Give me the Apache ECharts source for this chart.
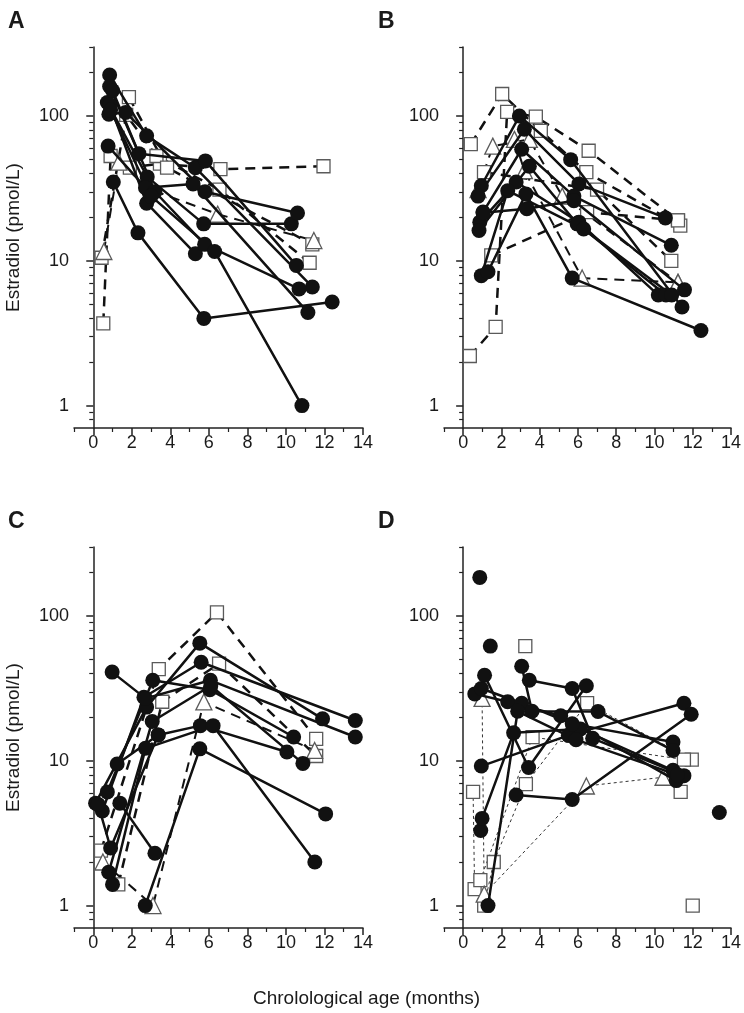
<!DOCTYPE html>
<html>
<head>
<meta charset="utf-8">
<script src="https://cdn.jsdelivr.net/npm/echarts@6/dist/echarts.min.js"></script>
<style>
  html, body { margin: 0; background: #fff; }
  #main { width: 744px; height: 1013px; }
</style>
</head>
<body>
<div id="main"></div>
<script>
// estradiol vs age, one line per infant. circles = solid, squares / triangles = dashed
const panelNames = ['A', 'B', 'C', 'D'];
const xTicks = [0, 2, 4, 6, 8, 10, 12, 14];
const xMinorTicks = [-1, 1, 3, 5, 7, 9, 11, 13];
const yTicks = [1, 10, 100];
const yMinorTicks = [0.8, 0.9, 2, 3, 4, 5, 6, 7, 8, 9, 20, 30, 40, 50, 60, 70, 80, 90, 200, 300];

// panel A
const aCircles = [
  [[0.85, 192], [2.77, 73], [5.3, 44], [11.37, 6.6]],
  [[0.85, 160], [2.37, 55], [5.82, 49], [10.54, 9.3]],
  [[0.73, 124], [2.8, 38], [5.73, 18], [10.28, 18]],
  [[0.81, 103], [1.68, 106], [5.8, 30], [10.6, 21.4]],
  [[0.77, 62], [2.71, 32], [5.18, 34], [11.14, 4.4]],
  [[1.04, 35], [2.32, 15.6], [5.74, 4.0], [12.4, 5.2]],
  [[0.85, 120], [2.77, 25], [5.3, 11.2]],
  [[1.0, 150], [3.2, 30], [5.78, 13], [10.68, 6.4]],
  [[0.9, 110], [3.0, 28], [6.3, 11.6], [10.83, 1.0]]
];
const aSquares = [
  [[0.52, 3.7], [0.9, 53], [1.9, 44], [3.46, 47], [6.6, 43], [11.95, 45]],
  [[0.43, 10.5], [1.71, 102], [3.28, 53], [6.55, 31], [11.23, 9.7]],
  [[1.85, 135], [3.83, 44], [11.37, 13]]
];
const aTriangles = [
  [[0.55, 11.6], [1.33, 48], [3.0, 31], [6.46, 21], [11.45, 13.8]]
];

// panel B
const bCircles = [
  [[0.95, 33], [2.94, 100], [5.62, 50], [11.44, 4.8]],
  [[0.78, 28], [3.2, 81], [6.05, 34], [10.57, 19.8]],
  [[1.04, 21.7], [3.06, 59], [5.79, 28], [10.88, 12.8]],
  [[0.87, 18.5], [2.77, 35], [6.05, 18.5], [10.2, 5.8]],
  [[0.83, 16.2], [3.46, 45], [5.96, 18], [10.6, 5.8]],
  [[0.95, 7.9], [2.33, 30.5], [6.3, 16.6], [10.9, 5.8]],
  [[1.3, 8.4], [3.28, 29], [5.7, 7.6], [12.43, 3.3]],
  [[1.04, 21.5], [3.33, 22.9], [5.79, 26], [11.57, 6.3]]
];
const bSquares = [
  [[0.35, 2.2], [1.7, 3.5], [2.3, 107], [3.8, 99], [6.56, 57.6], [11.23, 19]],
  [[0.4, 64], [2.04, 142], [4.06, 79], [6.44, 41], [11.35, 17.5]],
  [[1.09, 41], [7.0, 31], [10.88, 10]],
  [[1.47, 10.9], [6.48, 21.7], [11.23, 19]]
];
const bTriangles = [
  [[0.78, 31], [1.55, 62], [3.46, 69], [5.18, 28], [11.23, 7.1]],
  [[2.68, 69], [3.2, 42], [6.22, 7.6], [11.23, 7.1]]
];

// panel C
const cCircles = [
  [[0.12, 5.1], [2.77, 23.5], [5.53, 65], [11.9, 19.5]],
  [[0.47, 4.5], [2.63, 27.5], [5.6, 48], [13.6, 19]],
  [[0.98, 41], [2.71, 27], [6.08, 36], [13.6, 14.6]],
  [[0.73, 6.1], [3.09, 36], [6.05, 31], [10.4, 14.6]],
  [[1.24, 9.5], [3.37, 15.1], [5.56, 17.5], [10.05, 11.5]],
  [[0.8, 1.7], [3.06, 18.7], [6.1, 33], [10.88, 9.6]],
  [[1.0, 1.4], [2.71, 12.2], [6.22, 17.5], [11.5, 2.0]],
  [[2.7, 1.0], [5.53, 12.1], [12.06, 4.3]],
  [[1.38, 5.1], [3.2, 2.3]],
  [[0.25, 5.0], [0.9, 2.5], [3.37, 15.1]]
];
const cSquares = [
  [[0.4, 2.4], [3.4, 43], [6.42, 106], [11.57, 14.2]],
  [[1.3, 1.4], [3.58, 25.6], [6.53, 47], [11.57, 10.8]]
];
const cTriangles = [
  [[0.5, 2.0], [3.1, 1.0], [5.74, 25.5], [11.49, 11.8]]
];

// panel D
const dCircles = [
  [[0.87, 185]],
  [[1.42, 62]],
  [[13.39, 4.4]],
  [[0.92, 3.3], [0.99, 4.0], [2.64, 15.6], [6.13, 16.6], [10.97, 8.6]],
  [[0.95, 9.2], [5.5, 15], [11.54, 25]],
  [[2.77, 5.8], [5.7, 5.4], [11.92, 21]],
  [[0.61, 29], [2.33, 25.6], [5.1, 20.5], [11.14, 7.3]],
  [[0.95, 31.6], [3.06, 25], [5.7, 18], [10.97, 13.5]],
  [[1.12, 39], [3.42, 9.0], [6.44, 33]],
  [[3.06, 45], [3.6, 22], [7.05, 21.9], [10.97, 11.8]],
  [[3.46, 36], [5.7, 31.6], [6.77, 14.3], [11.54, 7.9]],
  [[1.3, 1.0], [2.85, 22], [5.9, 14], [11.2, 8.0]]
];
const dSquares = [
  [[0.52, 6.1], [0.6, 1.3], [1.1, 1.0], [1.6, 2.0], [3.28, 6.9], [6.48, 25], [11.95, 10.2]],
  [[0.9, 1.5], [3.63, 14.6], [11.54, 10.2]],
  [[3.25, 62]],
  [[11.37, 6.1]],
  [[12.0, 1.0]]
];
const dTriangles = [
  [[0.99, 27], [1.1, 1.2], [6.44, 6.7], [10.45, 7.7]]
];

const panels = [
  { circles: aCircles, squares: aSquares, triangles: aTriangles },
  { circles: bCircles, squares: bSquares, triangles: bTriangles },
  { circles: cCircles, squares: cSquares, triangles: cTriangles },
  { circles: dCircles, squares: dSquares, triangles: dTriangles }
];

var font = 'Liberation Sans, Arial, sans-serif';
var gridPos = [
  { left: 74, top: 47 },
  { left: 444, top: 47 },
  { left: 74, top: 547 },
  { left: 444, top: 547 }
];

var grids = [], xAxes = [], yAxes = [], series = [], titles = [];

gridPos.forEach(function (g, i) {
  grids.push({ left: g.left, top: g.top, width: 289, height: 381 });

  // major x axis with labels
  xAxes.push({
    gridIndex: i, type: 'value', min: -1, max: 14, position: 'bottom',
    axisLine: { lineStyle: { color: '#222', width: 1.5 } },
    axisTick: { length: 7, lineStyle: { color: '#222', width: 1.5 }, customValues: xTicks },
    axisLabel: { customValues: xTicks, color: '#1a1a1a', fontSize: 18, fontFamily: font, margin: 6 },
    splitLine: { show: false }
  });
  // minor x ticks
  xAxes.push({
    gridIndex: i, type: 'value', min: -1, max: 14, position: 'bottom',
    axisLine: { show: false },
    axisTick: { length: 4, lineStyle: { color: '#222', width: 1.2 }, customValues: xMinorTicks },
    axisLabel: { show: false },
    splitLine: { show: false }
  });

  yAxes.push({
    gridIndex: i, type: 'log', min: 0.7, max: 300, position: 'left',
    name: (i % 2 === 0) ? 'Estradiol (pmol/L)' : '',
    nameLocation: 'middle', nameGap: 51, nameRotate: 90,
    nameTextStyle: { fontSize: 19, fontFamily: font, color: '#1a1a1a' },
    axisLine: { show: true, lineStyle: { color: '#222', width: 1.5 } },
    axisTick: { length: 7, lineStyle: { color: '#222', width: 1.5 }, customValues: yTicks },
    axisLabel: { customValues: yTicks, color: '#1a1a1a', fontSize: 18, fontFamily: font, margin: 5 },
    splitLine: { show: false }
  });
  yAxes.push({
    gridIndex: i, type: 'log', min: 0.7, max: 300, position: 'left',
    axisLine: { show: false },
    axisTick: { length: 4, lineStyle: { color: '#222', width: 1.2 }, customValues: yMinorTicks },
    axisLabel: { show: false },
    splitLine: { show: false }
  });

  titles.push({
    text: panelNames[i], left: g.left - 71, top: g.top - 42,
    textStyle: { fontSize: 23, fontWeight: 'bold', fontFamily: font, color: '#1a1a1a' }
  });

  var p = panels[i];
  function add(list, kind) {
    list.forEach(function (pts) {
      var s = {
        type: 'line', xAxisIndex: 2 * i, yAxisIndex: 2 * i, data: pts,
        symbolSize: 15, silent: true, z: 2,
        lineStyle: { color: '#111', width: 2.5, type: 'solid' }
      };
      if (kind === 'circle') {
        s.symbol = 'circle';
        s.itemStyle = { color: '#111' };
        s.z = 3;
      } else {
        s.symbol = kind === 'square' ? 'rect' : 'triangle';
        s.symbolSize = kind === 'square' ? 13 : 16;
        s.itemStyle = { color: '#fff', borderColor: '#5a5a5a', borderWidth: 1.3 };
        // D panel squares are joined by thin dotted lines
        if (i === 3) s.lineStyle = { color: '#333', width: 1, type: [3, 3] };
        else s.lineStyle = { color: '#111', width: kind === 'square' ? 2.5 : 2, type: [10, 7] };
      }
      series.push(s);
    });
  }
  add(p.squares, 'square');
  add(p.triangles, 'triangle');
  add(p.circles, 'circle');
});

titles.push({
  text: 'Chrolological age (months)', left: 248, top: 984,
  textStyle: { fontSize: 19, fontWeight: 'normal', fontFamily: font, color: '#1a1a1a' }
});

var myChart = echarts.init(document.getElementById('main'));
myChart.setOption({
  animation: false,
  backgroundColor: '#fff',
  title: titles,
  grid: grids,
  xAxis: xAxes,
  yAxis: yAxes,
  series: series
});
</script>
</body>
</html>
